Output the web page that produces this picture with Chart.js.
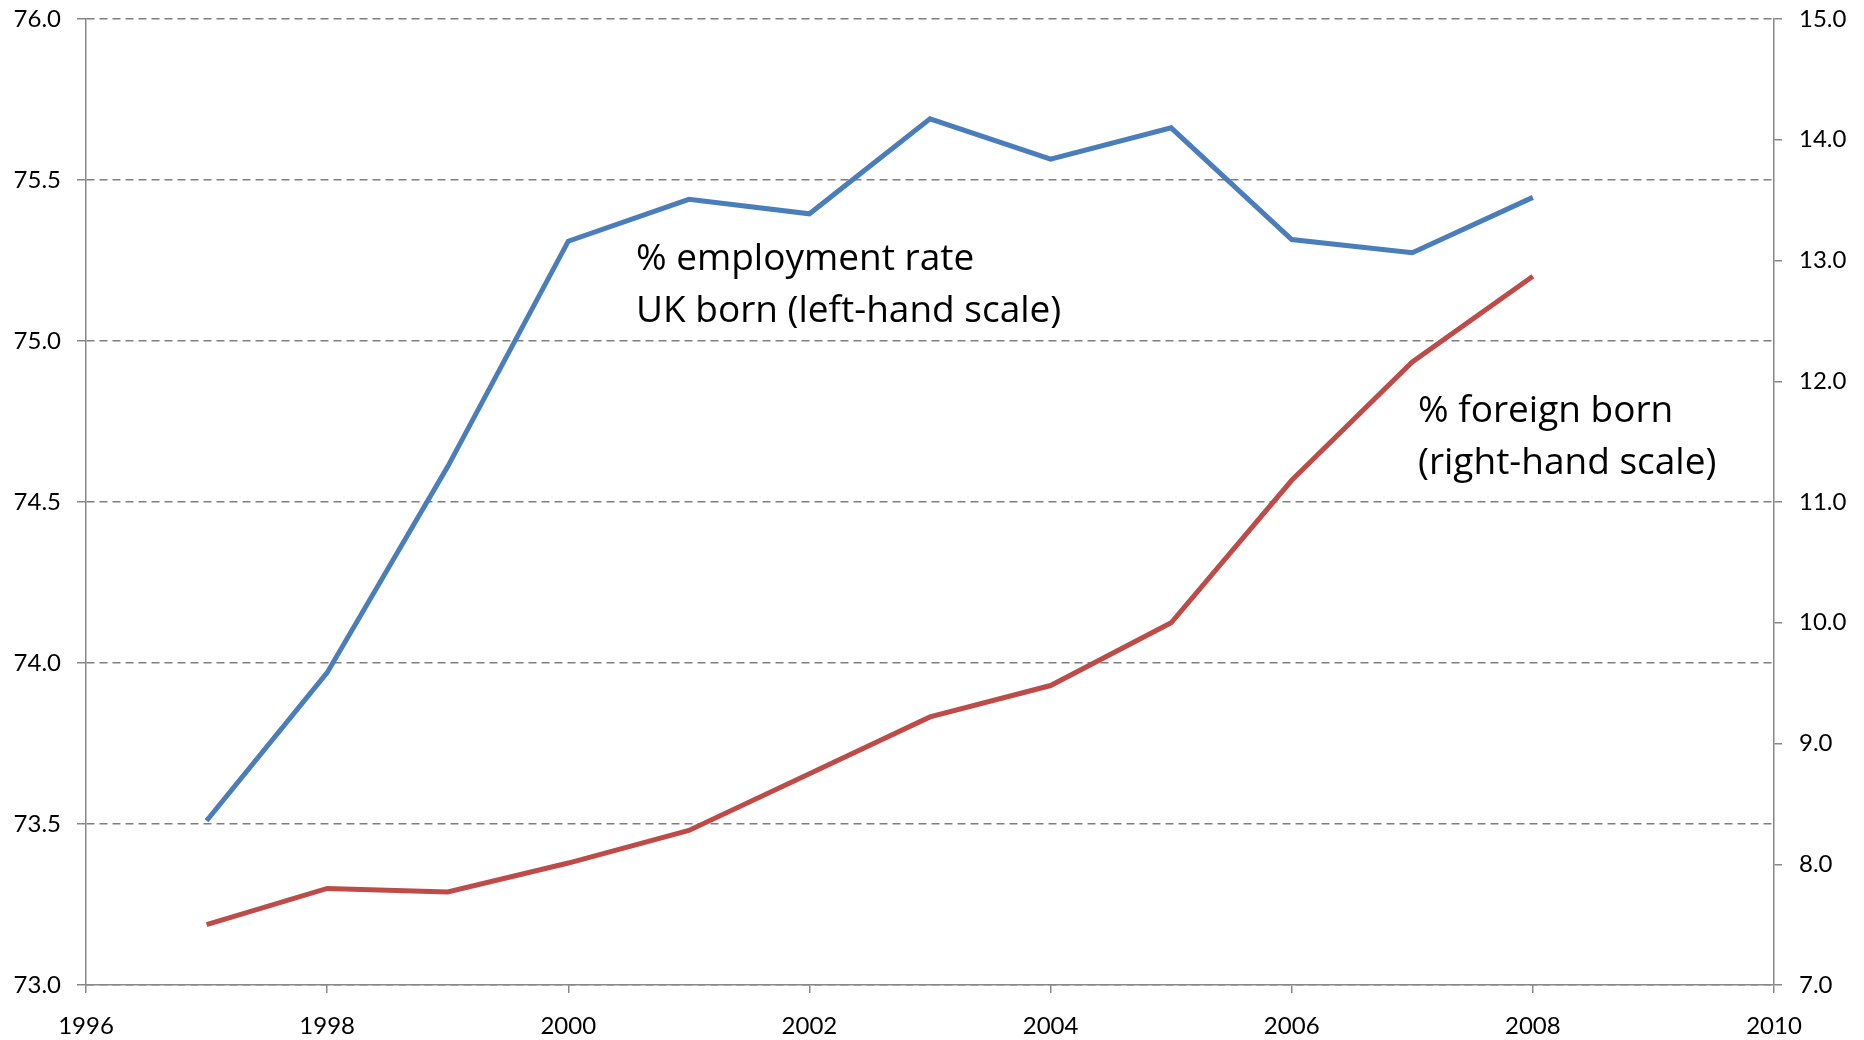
<!DOCTYPE html>
<html>
<head>
<meta charset="utf-8">
<title>UK employment rate and foreign-born share</title>
<script src="https://cdn.jsdelivr.net/npm/chart.js@4/dist/chart.umd.min.js"></script>
<style>
  html, body { margin: 0; padding: 0; background: #ffffff; }
  #wrap { width: 1864px; height: 1040px; position: relative; }
  canvas { display: block; }
</style>
</head>
<body>
<div id="wrap"><canvas id="chart" width="1864" height="1040"></canvas></div>
<script>
// Survey years
const years = [1997, 1998, 1999, 2000, 2001, 2002, 2003, 2004, 2005, 2006, 2007, 2008];

// % employment rate, UK born (left-hand scale)
const ukBornEmployment = [73.51, 73.97, 74.61, 75.31, 75.44, 75.395, 75.69, 75.565, 75.662, 75.315, 75.274, 75.446];

// % foreign born (right-hand scale)
const foreignBornShare = [7.50, 7.80, 7.77, 8.01, 8.28, 8.75, 9.22, 9.48, 10.00, 11.18, 12.16, 12.87];

// Axis tick values
const xTickYears = [1996, 1998, 2000, 2002, 2004, 2006, 2008, 2010];
const leftTickValues = [73.0, 73.5, 74.0, 74.5, 75.0, 75.5, 76.0];
const rightTickValues = [7, 8, 9, 10, 11, 12, 13, 14, 15];

// Line labels
const employmentLabel = ['% employment rate', 'UK born (left-hand scale)'];
const foreignLabel = ['% foreign born', '(right-hand scale)'];

const FONT = 'Lato, "Open Sans", "DejaVu Sans", sans-serif';
const CAPTION_FONT = '"Open Sans", Lato, "DejaVu Sans", sans-serif';
const AXIS_GREY = '#888888';
const GRID_GREY = '#7f7f7f';
const BLUE = '#4A7EBB';
const RED = '#BE4B48';

const toPoints = (xs, ys) => xs.map((x, i) => ({ x: x, y: ys[i] }));
const setTicks = (values) => (scale) => { scale.ticks = values.map(v => ({ value: v })); };

// Fixed axis band sizes; label overhang is allowed to spill past the plot edges
const fixWidth = (w) => (scale) => {
  scale.width = w;
  scale.paddingTop = 0;
  scale.paddingBottom = 0;
};

// Draws the two in-chart series captions
const captionPlugin = {
  id: 'captions',
  afterDatasetsDraw(chart) {
    const ctx = chart.ctx;
    ctx.save();
    ctx.fillStyle = '#000000';
    ctx.font = '37px ' + CAPTION_FONT;
    ctx.textAlign = 'left';
    ctx.textBaseline = 'alphabetic';
    ctx.fillText(employmentLabel[0], 636, 270);
    ctx.fillText(employmentLabel[1], 636, 322);
    ctx.fillText(foreignLabel[0], 1418, 422);
    ctx.fillText(foreignLabel[1], 1418, 474);
    ctx.restore();
  }
};

new Chart(document.getElementById('chart'), {
  type: 'line',
  data: {
    datasets: [
      {
        label: '% employment rate UK born',
        data: toPoints(years, ukBornEmployment),
        yAxisID: 'yLeft',
        borderColor: BLUE,
        borderWidth: 5,
        pointRadius: 0,
        tension: 0,
        fill: false
      },
      {
        label: '% foreign born',
        data: toPoints(years, foreignBornShare),
        yAxisID: 'yRight',
        borderColor: RED,
        borderWidth: 5,
        pointRadius: 0,
        tension: 0,
        fill: false
      }
    ]
  },
  options: {
    responsive: false,
    devicePixelRatio: 1,
    animation: false,
    events: [],
    layout: { padding: { top: 19, left: 0, right: 0, bottom: 0 } },
    plugins: {
      legend: { display: false },
      tooltip: { enabled: false }
    },
    scales: {
      x: {
        type: 'linear',
        min: 1996,
        max: 2010,
        afterBuildTicks: setTicks(xTickYears),
        afterFit(scale) { scale.height = 55; },
        grid: {
          drawOnChartArea: false,
          drawTicks: true,
          tickLength: 8,
          color: AXIS_GREY,
          lineWidth: 1.5
        },
        border: { display: true, color: AXIS_GREY, width: 1.5 },
        ticks: {
          color: '#000000',
          font: { family: FONT, size: 24 },
          padding: 19,
          maxRotation: 0,
          autoSkip: false,
          callback: (v) => String(v)
        }
      },
      yLeft: {
        type: 'linear',
        position: 'left',
        min: 73,
        max: 76,
        afterBuildTicks: setTicks(leftTickValues),
        afterFit: fixWidth(86),
        grid: {
          drawOnChartArea: true,
          drawTicks: true,
          tickLength: 9,
          color: GRID_GREY,
          lineWidth: 1.5,
          tickColor: AXIS_GREY,
          tickBorderDash: []
        },
        border: { display: true, color: AXIS_GREY, width: 1.5, dash: [8, 5] },
        ticks: {
          color: '#000000',
          font: { family: FONT, size: 24 },
          padding: 16,
          autoSkip: false,
          callback: (v) => Number(v).toFixed(1)
        }
      },
      yRight: {
        type: 'linear',
        position: 'right',
        min: 7,
        max: 15,
        afterBuildTicks: setTicks(rightTickValues),
        afterFit: fixWidth(90),
        grid: {
          drawOnChartArea: false,
          drawTicks: true,
          tickLength: 8,
          color: AXIS_GREY,
          lineWidth: 1.5
        },
        border: { display: true, color: AXIS_GREY, width: 1.5 },
        ticks: {
          color: '#000000',
          font: { family: FONT, size: 24 },
          padding: 17,
          autoSkip: false,
          callback: (v) => Number(v).toFixed(1)
        }
      }
    }
  },
  plugins: [captionPlugin]
});
</script>
</body>
</html>
